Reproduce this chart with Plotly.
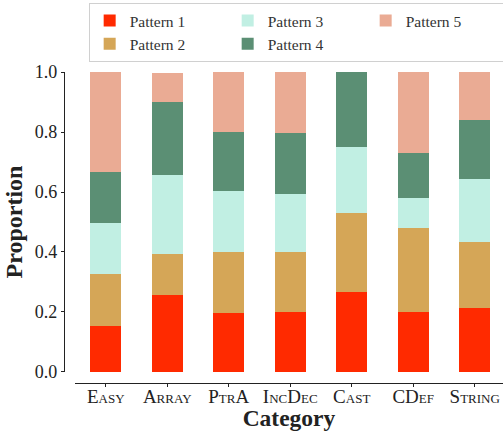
import plotly.graph_objects as go

categories = ["Easy", "Array", "PtrA", "IncDec", "Cast", "CDef", "String"]
pattern1 = [0.154, 0.258, 0.198, 0.201, 0.268, 0.201, 0.214]
pattern2 = [0.174, 0.136, 0.203, 0.200, 0.263, 0.280, 0.220]
pattern3 = [0.170, 0.264, 0.203, 0.193, 0.220, 0.100, 0.210]
pattern4 = [0.170, 0.243, 0.197, 0.204, 0.249, 0.150, 0.197]
pattern5 = [0.332, 0.097, 0.199, 0.202, 0.000, 0.269, 0.159]
series_names = ["Pattern 1", "Pattern 2", "Pattern 3", "Pattern 4", "Pattern 5"]
colors = ["#ff2a00", "#d5a657", "#c1efe3", "#5b8f74", "#eaab94"]
legend_ranks = [1, 4, 2, 5, 3]
y_ticks = [0.0, 0.2, 0.4, 0.6, 0.8, 1.0]

FONT = "Liberation Serif"
series = [pattern1, pattern2, pattern3, pattern4, pattern5]

fig = go.Figure()
for name, vals, col, rank in zip(series_names, series, colors, legend_ranks):
    fig.add_trace(go.Bar(
        x=list(range(len(categories))), y=vals, name=name,
        marker=dict(color=col, line=dict(width=0)),
        width=0.5, legendrank=rank,
    ))

fig.update_layout(
    width=503, height=431,
    barmode="stack",
    plot_bgcolor="white", paper_bgcolor="white",
    margin=dict(l=64, r=0, t=72, b=48, autoexpand=False),
    font=dict(family=FONT, color="#222222"),
    showlegend=True,
    legend=dict(
        orientation="h", x=0.53, xanchor="center", y=1.222, yanchor="top",
        bordercolor="#d0d0d0", borderwidth=1, bgcolor="white",
        font=dict(family=FONT, size=15.5, color="#333333"),
        entrywidth=93, entrywidthmode="pixels",
        traceorder="normal",
    ),
    xaxis=dict(
        domain=[0.025, 1], anchor="free", position=0,
        range=[-0.5, 6.46], automargin=False,
        tickmode="array", tickvals=list(range(len(categories))), ticktext=categories,
        tickfont=dict(family=FONT, size=19, color="#222222", variant="small-caps"),
        ticklabelstandoff=-7,
        showline=True, linecolor="#222222", linewidth=1.3,
        ticks="outside", ticklen=3, tickwidth=1.3, tickcolor="#222222",
        showgrid=False, zeroline=False,
        title=dict(text="<b>Category</b>", font=dict(family=FONT, size=23.5, color="#222222"), standoff=0),
    ),
    yaxis=dict(
        domain=[0.0354, 1], anchor="free", position=0,
        range=[0, 1.0], automargin=False, tickmode="array", tickvals=y_ticks,
        ticktext=[f"{v:.1f}" for v in y_ticks],
        tickfont=dict(family=FONT, size=18, color="#222222"),
        showline=True, linecolor="#222222", linewidth=1.3,
        ticks="outside", ticklen=3, tickwidth=1.3, tickcolor="#222222",
        showgrid=False, zeroline=False,
        title=dict(text="<b>Proportion</b>", font=dict(family=FONT, size=24, color="#222222"), standoff=4),
    ),
)

fig.write_html(
    "out.html",
    config={"displayModeBar": False},
    post_script="document.body.style.margin='0';document.body.style.overflow='hidden';",
)
